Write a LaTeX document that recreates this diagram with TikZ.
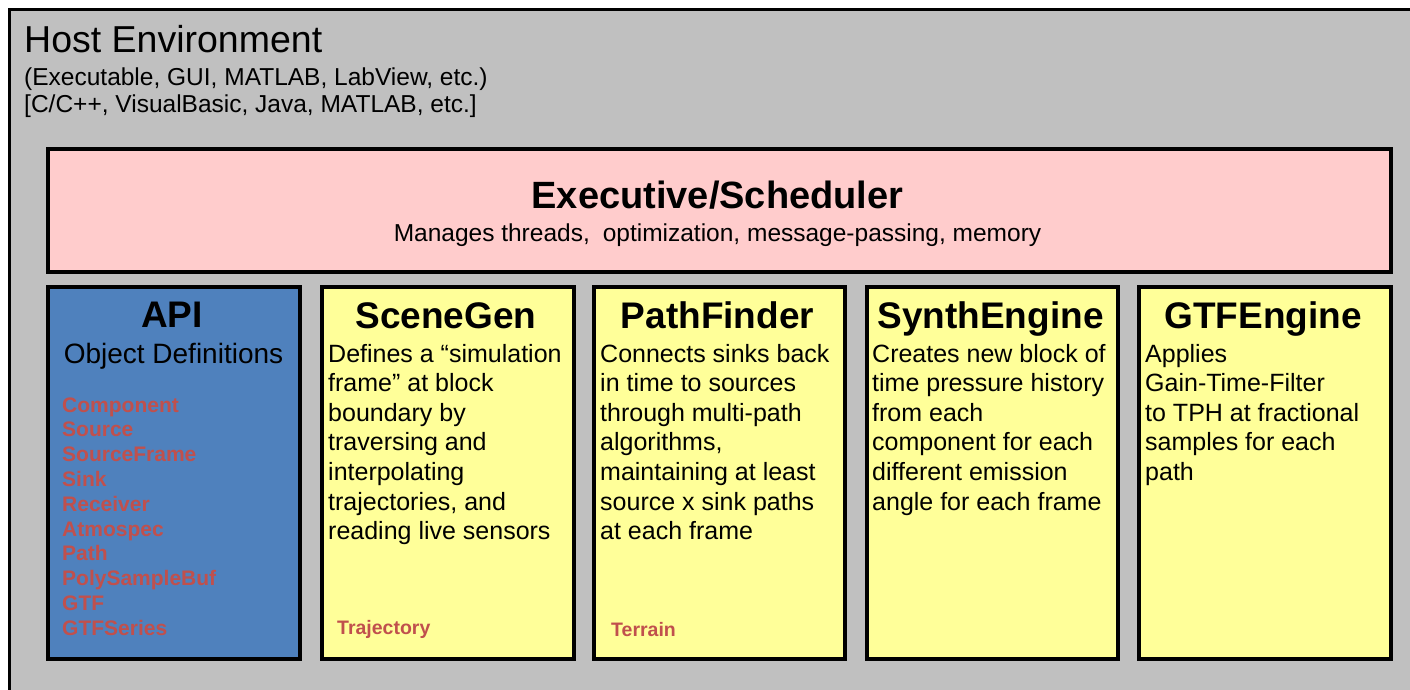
\documentclass[tikz,border=0pt]{standalone}
\usepackage{fontspec}
\setmainfont{Liberation Sans}
\definecolor{hostgray}{HTML}{C0C0C0}
\definecolor{execpink}{HTML}{FFCCCC}
\definecolor{apiblue}{HTML}{4F81BD}
\definecolor{coreyellow}{HTML}{FFFF99}
\definecolor{labelred}{HTML}{C0504D}
\newcommand{\fsz}[2]{\fontsize{#1}{#2}\selectfont}
\begin{document}
\begin{tikzpicture}[x=1pt,y=-1pt,
  panel/.style={draw=black, line width=4pt, inner sep=0pt, anchor=north west},
  colbox/.style={panel, minimum width=252pt, minimum height=372pt},
  coltitle/.style={anchor=base, font=\bfseries\fsz{37}{40}},
  % multi-line blocks are placed by the baseline of their last line
  colbody/.style={anchor=base west, align=left, inner sep=0pt, font=\fsz{25}{29.6}},
  reflabel/.style={anchor=base west, inner sep=0pt, text=labelred, font=\bfseries\fsz{19.5}{22}},
  hostline/.style={anchor=base west, inner sep=0pt, font=\fsz{24.5}{27}}]
\useasboundingbox (0,0) rectangle (1410,690);
\fill[white] (0,0) rectangle (1410,690);
% host environment frame, open to the right and bottom edges
\begin{scope}
  \clip (0,0) rectangle (1410,690);
  \draw[fill=hostgray, line width=3pt] (9.5,9.5) rectangle (1425,705);
\end{scope}
\node[anchor=base west, inner sep=0pt, font=\fsz{37.5}{40}] (host) at (24,53) {Host Environment};
\node[hostline] (hostapps) at (24,86) {(Executable, GUI, MATLAB, LabView, etc.)};
\node[hostline] (hostlangs) at (24,113) {[C/C++, VisualBasic, Java, MATLAB, etc.]};

% executive / scheduler band
\node[panel, fill=execpink, minimum width=1343pt, minimum height=123pt] (exec) at (46,147) {};
\node[anchor=base, font=\bfseries\fsz{38}{40}] (exectitle) at (717.5,208) {Executive/Scheduler};
\node[anchor=base, font=\fsz{24.5}{27}] (execsub) at (717.5,241)
  {Manages threads,\hspace{0.25em} optimization, message-passing, memory};

% module columns
\node[colbox, fill=apiblue] (api) at (46,285) {};
\node[colbox, fill=coreyellow] (scenegen) at (320,285) {};
\node[colbox, fill=coreyellow, minimum width=251pt] (pathfinder) at (592,285) {};
\node[colbox, fill=coreyellow, minimum width=251pt] (synth) at (865,285) {};
\node[colbox, fill=coreyellow] (gtf) at (1137,285) {};

% API column
\node[coltitle] (apititle) at (172,327) {API};
\node[anchor=base, font=\fsz{28}{30}] (apisub) at (173.5,363) {Object Definitions};
\node[anchor=base west, align=left, inner sep=0pt, text=labelred, font=\bfseries\fsz{21}{24.8}] (apilist) at (62,635.2)
  {Component\\Source\\SourceFrame\\Sink\\Receiver\\Atmospec\\Path\\PolySampleBuf\\GTF\\GTFSeries};

% SceneGen column
\node[coltitle] (sgtitle) at (446,328) {SceneGen};
\node[colbody] (sgbody) at (328,539.6)
  {Defines a “simulation\\frame” at block\\boundary by\\traversing and\\interpolating\\trajectories, and\\reading live sensors};
\node[reflabel] (sgref) at (337,634) {Trajectory};

% PathFinder column
\node[coltitle] (pftitle) at (717.5,328) {PathFinder};
\node[colbody] (pfbody) at (600,539.6)
  {Connects sinks back\\in time to sources\\through multi-path\\algorithms,\\maintaining at least\\source x sink paths\\at each frame};
\node[reflabel] (pfref) at (611,636) {Terrain};

% SynthEngine column
\node[coltitle] (setitle) at (990.5,328) {SynthEngine};
\node[colbody] (sebody) at (872,510)
  {Creates new block of\\time pressure history\\from each\\component for each\\different emission\\angle for each frame};

% GTFEngine column
\node[coltitle] (gtftitle) at (1263,328) {GTFEngine};
\node[colbody] (gtfbody) at (1145,480.4)
  {Applies\\Gain-Time-Filter\\to TPH at fractional\\samples for each\\path};
\end{tikzpicture}
\end{document}
